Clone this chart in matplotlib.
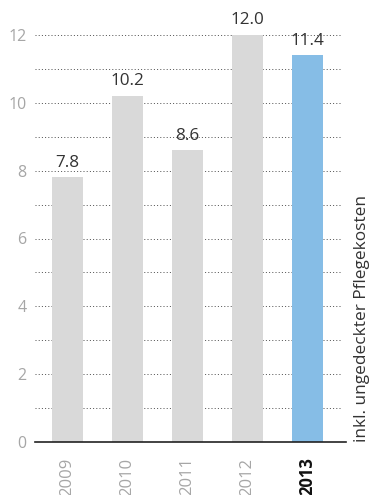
import matplotlib
matplotlib.use("Agg")
import matplotlib.pyplot as plt
import matplotlib.transforms as mtransforms

plt.rcParams['font.family'] = ['Open Sans', 'DejaVu Sans']

years = ["2009", "2010", "2011", "2012", "2013"]
values = [7.8, 10.2, 8.6, 12.0, 11.4]
value_labels = ["7.8", "10.2", "8.6", "12.0", "11.4"]
y_ticks = [0, 2, 4, 6, 8, 10, 12]
side_note = "inkl. ungedeckter Pflegekosten"

grey_bar = "#d9d9d9"
blue_bar = "#86bde6"
colors = [grey_bar] * 4 + [blue_bar]

fig = plt.figure(figsize=(3.77, 4.95), dpi=100)
ax = fig.add_axes([35 / 377, 52.7 / 495, (346 - 35) / 377, (442.3 - 34.7) / 495])

x = list(range(len(years)))
x_left, x_right = -0.54, 4.64
ax.set_xlim(x_left, x_right)
ax.set_ylim(0, 12)

# dotted horizontal guides at every unit
for level in range(1, 13):
    ax.hlines(level, x_left, 4.575, colors="#555555", linewidth=0.72,
              linestyles=(0, (1, 2.2)), zorder=1)

bars = ax.bar(x, values, width=0.52, color=colors, zorder=2)

for xi, v, lab in zip(x, values, value_labels):
    ax.annotate(lab, (xi, v), xytext=(0, 7.5), textcoords="offset points",
                ha="center", va="baseline", fontsize=12.3,
                color="#333333", annotation_clip=False, zorder=3)

ax.axhline(0, color="#222222", linewidth=1.2, zorder=4, clip_on=False)

for s in ax.spines.values():
    s.set_visible(False)

ax.set_yticks(y_ticks)
ax.set_yticklabels([str(t) for t in y_ticks])
ax.tick_params(axis="y", length=0, pad=6, labelsize=11.5, labelcolor="#a6a6a6")

ax.set_xticks(x)
ax.set_xticklabels(years, rotation=90)
ax.tick_params(axis="x", length=0, pad=11, labelsize=12, labelcolor="#a6a6a6")
last = ax.get_xticklabels()[-1]
last.set_fontweight("bold")
last.set_color("#111111")

trans = mtransforms.blended_transform_factory(fig.transFigure, ax.transData)
ax.text(362 / 377, 0, side_note, transform=trans, rotation=90, ha="center",
        va="bottom", fontsize=12.4, color="#333333", clip_on=False)

fig.savefig("out.png", dpi=100)
